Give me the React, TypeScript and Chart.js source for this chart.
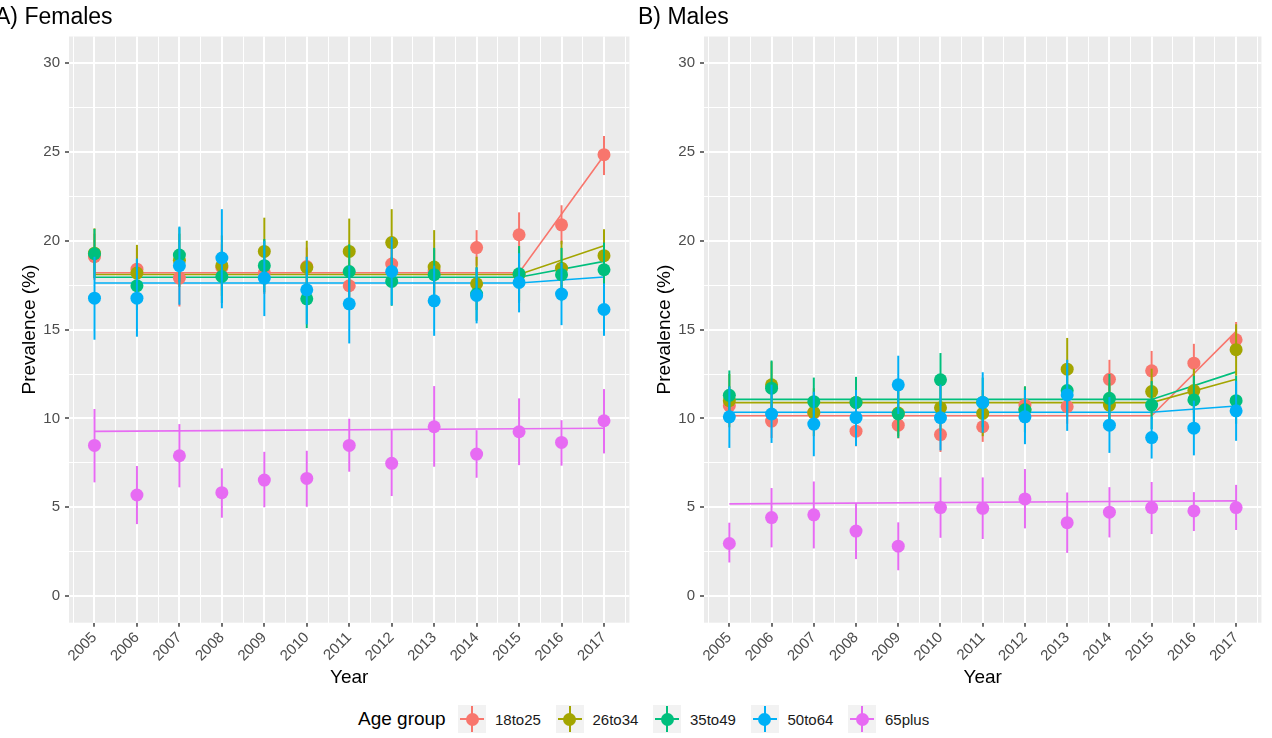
import React, { useEffect, useRef } from "react";
import { Chart, registerables } from "chart.js";

Chart.register(...registerables);

const FONT = '"Liberation Sans", Arial, Helvetica, sans-serif';
Chart.defaults.font.family = FONT;

// ---------- data ----------
const years = [2005, 2006, 2007, 2008, 2009, 2010, 2011, 2012, 2013, 2014, 2015, 2016, 2017];
const yMajorTicks = [0, 5, 10, 15, 20, 25, 30];
const groups = ["18to25", "26to34", "35to49", "50to64", "65plus"];
const colors = ["#F8766D", "#A3A500", "#00BF7D", "#00B0F6", "#E76BF3"];
const fitYears = [2005, 2015, 2017];

// Females
const f18to25 = [19.1, 18.4, 17.9, 18.5, 18.2, 18.55, 17.47, 18.69, 18.3, 19.62, 20.34, 20.9, 24.85];
const f18to25Lo = [17.8, 17.2, 16.3, 17.2, 17.0, 17.5, 16.3, 17.4, 17.1, 18.6, 19.1, 19.8, 23.7];
const f18to25Hi = [20.4, 19.6, 19.5, 19.8, 19.4, 19.62, 18.7, 20.0, 19.5, 20.6, 21.6, 22.0, 25.9];
const f26to34 = [19.3, 18.18, 18.9, 18.6, 19.4, 18.5, 19.4, 19.9, 18.52, 17.58, 18.1, 18.46, 19.16];
const f26to34Lo = [17.9, 16.6, 17.4, 16.9, 17.5, 17.0, 17.55, 18.0, 16.4, 16.1, 16.5, 16.9, 17.7];
const f26to34Hi = [20.7, 19.77, 20.4, 20.3, 21.3, 20.0, 21.25, 21.78, 20.6, 19.1, 19.7, 20.0, 20.65];
const f35to49 = [19.27, 17.47, 19.2, 17.99, 18.6, 16.73, 18.27, 17.71, 18.09, 17.0, 18.14, 18.09, 18.37];
const f35to49Lo = [17.9, 16.1, 17.7, 16.5, 17.1, 15.08, 16.8, 16.34, 16.6, 15.5, 16.6, 16.6, 16.9];
const f35to49Hi = [20.67, 18.9, 20.75, 19.5, 20.1, 18.4, 19.8, 19.1, 19.6, 18.5, 19.7, 19.6, 19.9];
const f50to64 = [16.77, 16.77, 18.6, 19.03, 17.9, 17.24, 16.45, 18.27, 16.62, 16.92, 17.65, 17.0, 16.13];
const f50to64Lo = [14.43, 14.6, 16.4, 16.2, 15.76, 15.3, 14.22, 16.37, 14.65, 15.35, 15.97, 15.25, 14.65];
const f50to64Hi = [19.1, 19.0, 20.8, 21.78, 20.0, 19.1, 18.6, 20.2, 18.6, 18.5, 19.3, 18.75, 17.6];
const f65plus = [8.48, 5.69, 7.9, 5.82, 6.53, 6.62, 8.48, 7.47, 9.53, 7.99, 9.25, 8.65, 9.87];
const f65plusLo = [6.4, 4.05, 6.12, 4.41, 5.0, 5.03, 7.0, 5.63, 7.28, 6.66, 7.37, 7.34, 8.03];
const f65plusHi = [10.53, 7.32, 9.68, 7.19, 8.12, 8.18, 9.98, 9.34, 11.82, 9.34, 11.13, 9.9, 11.65];
const fFit18to25 = [18.2, 18.2, 24.8];
const fFit26to34 = [18.1, 18.1, 19.72];
const fFit35to49 = [17.95, 17.95, 18.84];
const fFit50to64 = [17.62, 17.62, 17.96];
const fFit65plus = [9.27, 9.42, 9.45];

// Males
const m18to25 = [10.72, 9.85, 10.3, 9.28, 9.62, 9.09, 9.53, 10.75, 10.66, 12.2, 12.68, 13.11, 14.43];
const m18to25Lo = [9.7, 8.9, 9.3, 8.43, 8.87, 8.11, 8.68, 9.8, 9.7, 11.1, 11.6, 12.0, 13.4];
const m18to25Hi = [11.8, 10.8, 11.3, 10.1, 10.4, 10.1, 10.4, 11.7, 11.7, 13.3, 13.8, 14.2, 15.43];
const m26to34 = [11.0, 11.89, 10.34, 10.9, 10.3, 10.6, 10.28, 10.5, 12.77, 10.75, 11.51, 11.57, 13.87];
const m26to34Lo = [9.5, 10.4, 9.0, 9.5, 9.0, 9.3, 9.0, 9.2, 11.0, 9.5, 10.2, 10.3, 12.4];
const m26to34Hi = [12.5, 13.2, 11.7, 12.3, 11.6, 11.9, 11.6, 11.8, 14.53, 12.0, 12.8, 12.8, 15.3];
const m35to49 = [11.3, 11.7, 10.94, 10.9, 10.25, 12.17, 10.9, 10.47, 11.57, 11.13, 10.75, 11.04, 11.0];
const m35to49Lo = [9.9, 10.2, 9.6, 9.45, 8.9, 10.7, 9.5, 9.2, 10.1, 9.8, 9.4, 9.7, 9.7];
const m35to49Hi = [12.7, 13.26, 12.3, 12.34, 11.6, 13.68, 12.3, 11.8, 13.0, 12.5, 12.1, 12.4, 12.4];
const m50to64 = [10.09, 10.25, 9.68, 10.04, 11.89, 10.04, 10.9, 10.09, 11.32, 9.62, 8.92, 9.45, 10.43];
const m50to64Lo = [8.34, 8.62, 7.87, 8.45, 10.25, 8.2, 9.2, 8.55, 9.3, 8.06, 7.74, 7.92, 8.74];
const m50to64Hi = [11.8, 11.9, 11.5, 11.6, 13.53, 11.9, 12.6, 11.6, 13.3, 11.2, 10.1, 11.0, 12.1];
const m65plus = [2.96, 4.42, 4.57, 3.66, 2.81, 4.98, 4.94, 5.47, 4.13, 4.72, 4.98, 4.79, 4.98];
const m65plusLo = [1.89, 2.74, 2.68, 2.08, 1.45, 3.28, 3.21, 3.81, 2.43, 3.3, 3.49, 3.66, 3.72];
const m65plusHi = [4.13, 6.08, 6.45, 5.23, 4.15, 6.68, 6.68, 7.15, 5.83, 6.13, 6.42, 5.85, 6.26];
const mFit18to25 = [10.15, 10.15, 14.9];
const mFit26to34 = [10.89, 10.89, 12.2];
const mFit35to49 = [11.07, 11.07, 12.62];
const mFit50to64 = [10.35, 10.35, 10.7];
const mFit65plus = [5.19, 5.34, 5.36];

type PanelData = { vals: number[][]; lo: number[][]; hi: number[][]; fit: number[][] };

const females: PanelData = {
  vals: [f18to25, f26to34, f35to49, f50to64, f65plus],
  lo: [f18to25Lo, f26to34Lo, f35to49Lo, f50to64Lo, f65plusLo],
  hi: [f18to25Hi, f26to34Hi, f35to49Hi, f50to64Hi, f65plusHi],
  fit: [fFit18to25, fFit26to34, fFit35to49, fFit50to64, fFit65plus],
};
const males: PanelData = {
  vals: [m18to25, m26to34, m35to49, m50to64, m65plus],
  lo: [m18to25Lo, m26to34Lo, m35to49Lo, m50to64Lo, m65plusLo],
  hi: [m18to25Hi, m26to34Hi, m35to49Hi, m50to64Hi, m65plusHi],
  fit: [mFit18to25, mFit26to34, mFit35to49, mFit50to64, mFit65plus],
};

// ticks (major + minor gridlines, ggplot style)
const xTicks = years.flatMap((y) => [y - 0.5, y]).concat([years[years.length - 1] + 0.5]);
const yTicks = yMajorTicks.flatMap((v, i) => (i < yMajorTicks.length - 1 ? [v, v + 2.5] : [v]));
const isMajor = (v: number, majors: number[]) => majors.some((m) => Math.abs(m - v) < 1e-6);

const CANVAS_H = 700;

function Panel({ data, left, width, padRight }: { data: PanelData; left: number; width: number; padRight: number }) {
  const ref = useRef<HTMLCanvasElement>(null);
  useEffect(() => {
    if (!ref.current) return;
    const datasets: any[] = [];
    groups.forEach((g, gi) => {
      datasets.push({
        label: g + " fit",
        data: fitYears.map((x, i) => ({ x, y: data.fit[gi][i] })),
        showLine: true,
        borderColor: colors[gi],
        borderWidth: 1.6,
        pointRadius: 0,
        fill: false,
        order: 100 - gi,
      });
    });
    groups.forEach((g, gi) => {
      datasets.push({
        label: g,
        data: years.map((x, i) => ({ x, y: data.vals[gi][i] })),
        showLine: false,
        backgroundColor: colors[gi],
        borderColor: colors[gi],
        borderWidth: 0,
        pointRadius: 6.5,
        order: 10 - gi,
        errGroup: gi,
      });
    });

    const bgPlugin = {
      id: "panelBg",
      beforeDraw(chart: any) {
        const { ctx, chartArea } = chart;
        ctx.save();
        ctx.fillStyle = "#EBEBEB";
        ctx.fillRect(chartArea.left, chartArea.top, chartArea.right - chartArea.left, chartArea.bottom - chartArea.top);
        ctx.restore();
      },
    };
    const errPlugin = {
      id: "errBars",
      beforeDatasetDraw(chart: any, args: any) {
        const ds = chart.data.datasets[args.index];
        if (ds.errGroup === undefined) return;
        const gi = ds.errGroup;
        const xs = chart.scales.x;
        const ys = chart.scales.y;
        const ctx = chart.ctx;
        ctx.save();
        ctx.strokeStyle = colors[gi];
        ctx.lineWidth = 2;
        years.forEach((yr, i) => {
          const px = xs.getPixelForValue(yr);
          ctx.beginPath();
          ctx.moveTo(px, ys.getPixelForValue(data.lo[gi][i]));
          ctx.lineTo(px, ys.getPixelForValue(data.hi[gi][i]));
          ctx.stroke();
        });
        ctx.restore();
      },
    };

    const chart = new Chart(ref.current, {
      type: "scatter",
      data: { datasets },
      plugins: [bgPlugin, errPlugin],
      options: {
        animation: false,
        responsive: false,
        devicePixelRatio: 1,
        layout: { padding: { top: 36.5, right: padRight, left: 0, bottom: 0 } },
        plugins: { legend: { display: false }, tooltip: { enabled: false } },
        scales: {
          x: {
            type: "linear",
            min: 2004.4,
            max: 2017.6,
            afterBuildTicks: (s: any) => {
              s.ticks = xTicks.map((v) => ({ value: v }));
            },
            afterFit: (s: any) => {
              s.height = CANVAS_H - 622.7;
            },
            border: { display: false },
            grid: {
              color: "#FFFFFF",
              lineWidth: (c: any) => (isMajor(c.tick?.value, years) ? 2 : 1),
              drawTicks: true,
              tickLength: 4,
              tickWidth: 1.4,
              tickColor: (c: any) => (isMajor(c.tick?.value, years) ? "#333333" : "rgba(0,0,0,0)"),
            },
            ticks: {
              autoSkip: false,
              minRotation: 45,
              maxRotation: 45,
              padding: 2,
              color: "#4D4D4D",
              font: { size: 15, family: FONT },
              callback: (v: any) => (isMajor(Number(v), years) ? String(Math.round(Number(v))) : ""),
            },
            title: {
              display: true,
              text: "Year",
              color: "#000000",
              font: { size: 19, family: FONT, lineHeight: 1.2 },
              padding: { top: 0, bottom: 10.6 },
            },
          },
          y: {
            type: "linear",
            min: -1.5,
            max: 31.5,
            afterBuildTicks: (s: any) => {
              s.ticks = yTicks.map((v) => ({ value: v }));
            },
            afterFit: (s: any) => {
              s.width = 69;
            },
            border: { display: false },
            grid: {
              color: "#FFFFFF",
              lineWidth: (c: any) => (isMajor(c.tick?.value, yMajorTicks) ? 2 : 1),
              drawTicks: true,
              tickLength: 4,
              tickWidth: 1.4,
              tickColor: (c: any) => (isMajor(c.tick?.value, yMajorTicks) ? "#333333" : "rgba(0,0,0,0)"),
            },
            ticks: {
              autoSkip: false,
              padding: 5,
              color: "#4D4D4D",
              font: { size: 15, family: FONT },
              callback: (v: any) => (isMajor(Number(v), yMajorTicks) ? String(Math.round(Number(v))) : ""),
            },
            title: {
              display: true,
              text: "Prevalence (%)",
              color: "#000000",
              font: { size: 19, family: FONT, lineHeight: 1.2 },
              padding: { top: 18.6, bottom: 0 },
            },
          },
        },
      } as any,
    });
    return () => chart.destroy();
  }, [data, padRight]);

  return (
    <canvas
      ref={ref}
      width={width}
      height={CANVAS_H}
      style={{ position: "absolute", left, top: 0, width, height: CANVAS_H }}
    />
  );
}

function Key({ color }: { color: string }) {
  return (
    <div style={{ position: "relative", width: 28, height: 28, background: "#F2F2F2", flex: "0 0 auto" }}>
      <div style={{ position: "absolute", left: 2, right: 2, top: 13, height: 2, background: color }} />
      <div style={{ position: "absolute", top: 1, bottom: 1, left: 13, width: 2, background: color }} />
      <div
        style={{
          position: "absolute",
          left: 7.5,
          top: 7.5,
          width: 13,
          height: 13,
          borderRadius: "50%",
          background: color,
        }}
      />
    </div>
  );
}

export default function App() {
  return (
    <div
      style={{
        position: "fixed",
        left: 0,
        top: 0,
        width: 1272,
        height: 738,
        background: "#FFFFFF",
        overflow: "hidden",
        fontFamily: FONT,
      }}
    >
      <Panel data={females} left={0} width={640} padRight={5} />
      <Panel data={males} left={635} width={637} padRight={3} />
      <div style={{ position: "absolute", left: -5, top: 4.5, fontSize: 23, lineHeight: "23px", color: "#000" }}>
        A) Females
      </div>
      <div style={{ position: "absolute", left: 638, top: 4.5, fontSize: 23, lineHeight: "23px", color: "#000" }}>
        B) Males
      </div>
      <div
        style={{
          position: "absolute",
          left: 358,
          top: 705,
          height: 28,
          display: "flex",
          alignItems: "center",
        }}
      >
        <div style={{ fontSize: 19, color: "#000", width: 100 }}>Age group</div>
        {groups.map((g, i) => (
          <div key={g} style={{ display: "flex", alignItems: "center", width: 97.5 }}>
            <Key color={colors[i]} />
            <div style={{ marginLeft: 9, fontSize: 15, color: "#1A1A1A" }}>{g}</div>
          </div>
        ))}
      </div>
    </div>
  );
}
